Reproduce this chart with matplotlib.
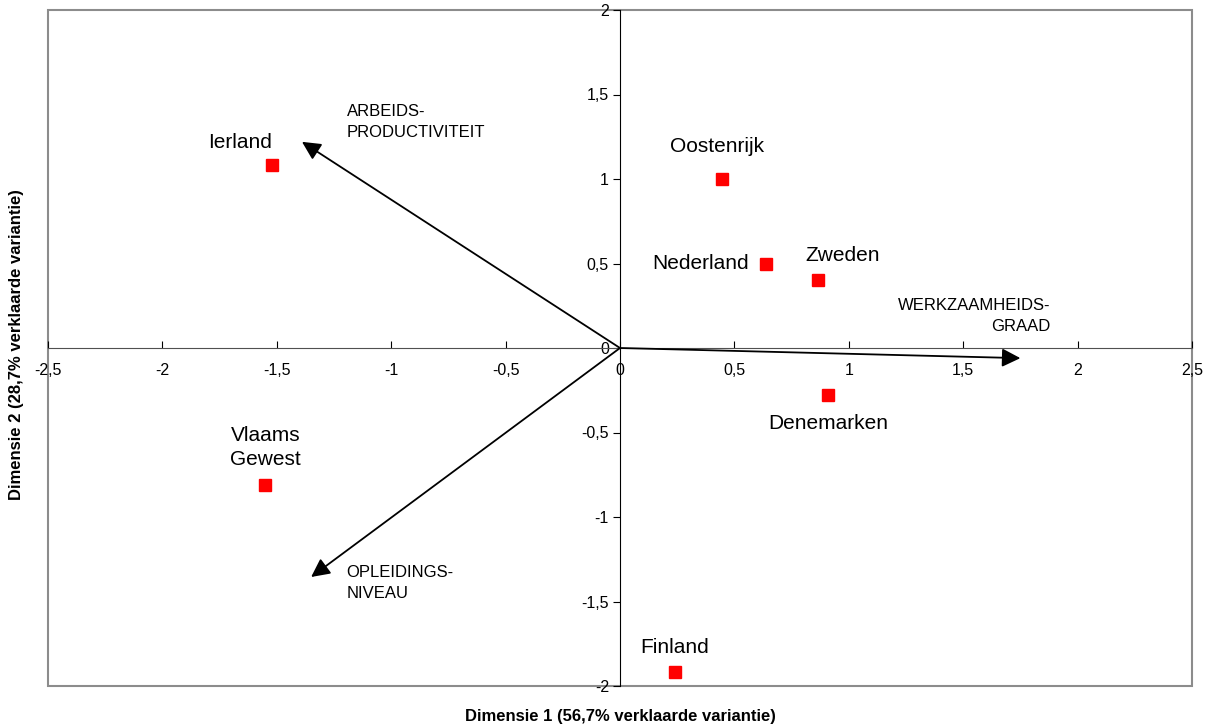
import matplotlib
matplotlib.use("Agg")
import matplotlib.pyplot as plt
from matplotlib.patches import Rectangle
from matplotlib.ticker import FuncFormatter, MultipleLocator

plt.rcParams['font.family'] = ['Liberation Sans', 'DejaVu Sans']

# country scores
countries = ['Ierland', 'Oostenrijk', 'Nederland', 'Zweden', 'Denemarken', 'Vlaams\nGewest', 'Finland']
dim1 = [-1.52, 0.446, 0.64, 0.865, 0.91, -1.55, 0.24]
dim2 = [1.08, 1.0, 0.50, 0.40, -0.28, -0.81, -1.92]

# variable loadings (arrows)
variables = ['ARBEIDS-\nPRODUCTIVITEIT', 'OPLEIDINGS-\nNIVEAU', 'WERKZAAMHEIDS-\nGRAAD']
load1 = [-1.39, -1.35, 1.75]
load2 = [1.22, -1.355, -0.06]

# label placement (text offsets in data units)
country_off = [(-0.14, 0.135), (-0.02, 0.19), (-0.29, 0.0), (0.11, 0.15), (0.0, -0.165), (0.0, 0.22), (0.0, 0.145)]
var_text = [(-1.195, 1.337, 'left'), (-1.195, -1.39, 'left'), (1.88, 0.19, 'right')]

fig = plt.figure(figsize=(12.11, 7.27), dpi=100)
ax = fig.add_axes([48 / 1211, 41 / 727, 1144 / 1211, 676 / 727])
ax.set_xlim(-2.5, 2.5)
ax.set_ylim(-2, 2)

for s in ['top', 'right']:
    ax.spines[s].set_visible(False)
ax.spines['left'].set_position('zero')
ax.spines['bottom'].set_position('zero')
ax.spines['left'].set_color('black')
ax.spines['bottom'].set_color('#505050')
ax.add_patch(Rectangle((0, 0), 1, 1, transform=ax.transAxes, fill=False,
                       edgecolor='#8c8c8c', lw=1.5, clip_on=False, zorder=0))

ax.xaxis.set_major_locator(MultipleLocator(0.5))
ax.yaxis.set_major_locator(MultipleLocator(0.5))
fmt = FuncFormatter(lambda v, p: ('%g' % v).replace('.', ','))
ax.xaxis.set_major_formatter(fmt)
ax.yaxis.set_major_formatter(fmt)
ax.tick_params(axis='x', direction='in', length=5, labelsize=11.5, pad=11)
ax.tick_params(axis='y', direction='out', length=5, labelsize=11.5, pad=3)

for x, y in zip(load1, load2):
    ax.annotate('', xy=(x, y), xytext=(0, 0),
                arrowprops=dict(arrowstyle='-|>', color='black', lw=1.3,
                                mutation_scale=28, shrinkA=0, shrinkB=0))
for (tx, ty, ha), name in zip(var_text, variables):
    ax.text(tx, ty, name, ha=ha, va='center', fontsize=12, linespacing=1.5)

ax.plot(dim1, dim2, 's', color='red', markersize=8, zorder=5)
for x, y, name, (dx, dy) in zip(dim1, dim2, countries, country_off):
    ax.text(x + dx, y + dy, name, ha='center', va='center', fontsize=15, linespacing=1.35)

fig.text(620 / 1211, 1 - 716 / 727, 'Dimensie 1 (56,7% verklaarde variantie)',
         ha='center', va='center', fontsize=12, fontweight='bold')
fig.text(17 / 1211, 1 - 345 / 727, 'Dimensie 2 (28,7% verklaarde variantie)',
         ha='center', va='center', rotation=90, fontsize=12, fontweight='bold')

fig.savefig('out.png', dpi=100)
